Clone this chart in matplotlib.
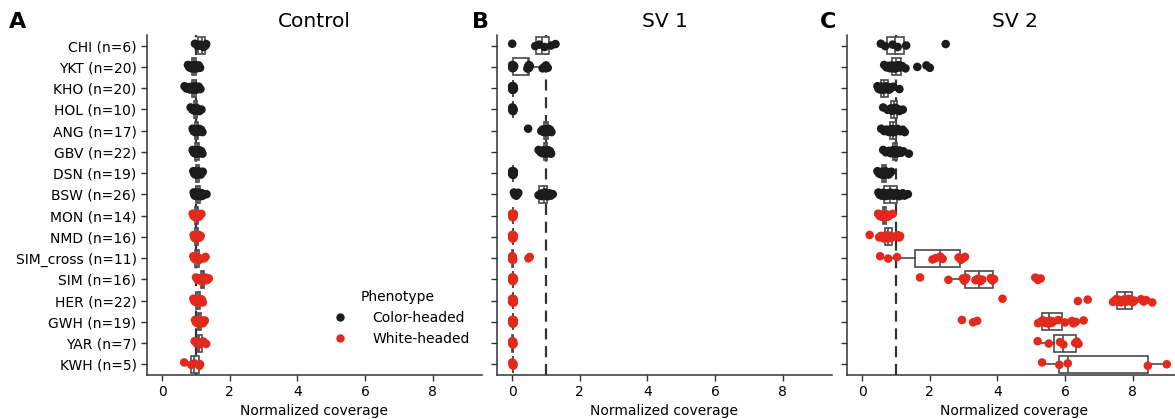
import numpy as np
import matplotlib
matplotlib.use("Agg")
import matplotlib.pyplot as plt
from matplotlib.lines import Line2D

plt.rcParams['font.family'] = ['DejaVu Sans']

groups = ["CHI", "YKT", "KHO", "HOL", "ANG", "GBV", "DSN", "BSW",
          "MON", "NMD", "SIM_cross", "SIM", "HER", "GWH", "YAR", "KWH"]
counts = [6, 20, 20, 10, 17, 22, 19, 26, 14, 16, 11, 16, 22, 19, 7, 5]
phenotype = ["Color-headed"] * 8 + ["White-headed"] * 8
panel_titles = ["Control", "SV 1", "SV 2"]
panel_letters = ["A", "B", "C"]
colors = {"Color-headed": "#1c1c1c", "White-headed": "#e3291b"}

control = {
    "CHI": [0.97, 1.05, 1.12, 1.22, 1.28, 1.30],
    "YKT": [0.76, 0.80, 0.84, 0.86, 0.88, 0.90, 0.91, 0.92, 0.93, 0.94, 0.95, 0.96, 0.97,
            0.98, 0.99, 1.00, 1.02, 1.05, 1.08, 1.12],
    "KHO": [0.66, 0.72, 0.78, 0.82, 0.86, 0.88, 0.89, 0.90, 0.92, 0.93, 0.94, 0.95, 0.96,
            0.97, 0.98, 1.00, 1.02, 1.05, 1.08, 1.13],
    "HOL": [0.84, 0.90, 0.94, 0.96, 0.98, 1.00, 1.02, 1.05, 1.10, 1.16],
    "ANG": [0.90, 0.93, 0.95, 0.97, 0.98, 0.99, 1.00, 1.01, 1.02, 1.03, 1.04, 1.05, 1.07,
            1.09, 1.12, 1.15, 1.19],
    "GBV": [0.90, 0.93, 0.95, 0.96, 0.97, 0.98, 0.99, 1.00, 1.00, 1.01, 1.02, 1.03, 1.04,
            1.05, 1.06, 1.07, 1.08, 1.10, 1.12, 1.14, 1.16, 1.19],
    "DSN": [0.92, 0.95, 0.97, 0.98, 0.99, 1.00, 1.01, 1.02, 1.03, 1.04, 1.05, 1.06, 1.07,
            1.08, 1.10, 1.12, 1.14, 1.17, 1.20],
    "BSW": [0.93, 0.95, 0.96, 0.97, 0.98, 0.99, 1.00, 1.00, 1.01, 1.02, 1.03, 1.04, 1.05,
            1.05, 1.06, 1.07, 1.08, 1.09, 1.10, 1.11, 1.12, 1.14, 1.16, 1.18, 1.20, 1.31],
    "MON": [0.90, 0.93, 0.95, 0.97, 0.98, 1.00, 1.01, 1.02, 1.03, 1.05, 1.07, 1.09, 1.12,
            1.16],
    "NMD": [0.93, 0.95, 0.96, 0.97, 0.98, 0.99, 1.00, 1.01, 1.02, 1.03, 1.04, 1.05, 1.07,
            1.09, 1.11, 1.14],
    "SIM_cross": [0.92, 0.95, 0.97, 0.99, 1.00, 1.02, 1.04, 1.06, 1.10, 1.24, 1.28],
    "SIM": [1.00, 1.05, 1.10, 1.13, 1.14, 1.16, 1.18, 1.19, 1.20, 1.21, 1.22, 1.24, 1.26,
            1.29, 1.33, 1.38],
    "HER": [0.92, 0.95, 0.97, 0.99, 1.00, 1.01, 1.02, 1.03, 1.04, 1.05, 1.06, 1.07, 1.08,
            1.09, 1.10, 1.11, 1.12, 1.13, 1.15, 1.16, 1.18, 1.20],
    "GWH": [0.97, 1.00, 1.02, 1.04, 1.05, 1.06, 1.07, 1.08, 1.09, 1.10, 1.11, 1.12, 1.13,
            1.14, 1.16, 1.18, 1.20, 1.23, 1.26],
    "YAR": [0.96, 1.02, 1.07, 1.10, 1.14, 1.22, 1.30],
    "KWH": [0.65, 0.86, 0.95, 1.10, 1.12],
}

sv1 = {
    "CHI": [0.00, 0.68, 0.80, 0.96, 1.15, 1.28],
    "YKT": [0.00, 0.00, 0.00, 0.01, 0.02, 0.03, 0.04, 0.06, 0.45, 0.47, 0.48, 0.49, 0.50,
            0.50, 0.50, 0.52, 0.90, 0.95, 1.00, 1.05],
    "KHO": [0.00, 0.00, 0.00, 0.00, 0.01, 0.01, 0.01, 0.01, 0.02, 0.02, 0.02, 0.02, 0.02,
            0.03, 0.03, 0.03, 0.03, 0.04, 0.04, 0.05],
    "HOL": [0.00, 0.00, 0.01, 0.01, 0.02, 0.02, 0.02, 0.03, 0.03, 0.04],
    "ANG": [0.47, 0.86, 0.90, 0.93, 0.95, 0.97, 0.98, 0.99, 1.00, 1.01, 1.02, 1.03, 1.05,
            1.07, 1.09, 1.12, 1.16],
    "GBV": [0.78, 0.84, 0.88, 0.90, 0.92, 0.94, 0.95, 0.96, 0.97, 0.98, 0.99, 1.00, 1.00,
            1.01, 1.02, 1.03, 1.04, 1.06, 1.08, 1.10, 1.12, 1.15],
    "DSN": [0.00, 0.00, 0.00, 0.01, 0.01, 0.01, 0.01, 0.02, 0.02, 0.02, 0.02, 0.02, 0.03,
            0.03, 0.03, 0.03, 0.04, 0.04, 0.05],
    "BSW": [0.05, 0.08, 0.10, 0.12, 0.15, 0.18, 0.78, 0.84, 0.88, 0.90, 0.92, 0.94, 0.95,
            0.96, 0.97, 0.98, 0.99, 1.00, 1.01, 1.02, 1.04, 1.06, 1.08, 1.10, 1.14, 1.20],
    "MON": [0.00, 0.00, 0.00, 0.01, 0.01, 0.01, 0.02, 0.02, 0.02, 0.02, 0.03, 0.03, 0.04,
            0.05],
    "NMD": [0.00, 0.00, 0.00, 0.01, 0.01, 0.01, 0.01, 0.02, 0.02, 0.02, 0.02, 0.03, 0.03,
            0.03, 0.04, 0.05],
    "SIM_cross": [0.00, 0.00, 0.00, 0.00, 0.01, 0.01, 0.02, 0.02, 0.03, 0.48, 0.52],
    "SIM": [0.00, 0.00, 0.00, 0.01, 0.01, 0.01, 0.01, 0.02, 0.02, 0.02, 0.02, 0.03, 0.03,
            0.03, 0.04, 0.05],
    "HER": [0.00, 0.00, 0.00, 0.00, 0.01, 0.01, 0.01, 0.01, 0.01, 0.02, 0.02, 0.02, 0.02,
            0.02, 0.03, 0.03, 0.03, 0.03, 0.04, 0.04, 0.04, 0.05],
    "GWH": [0.00, 0.00, 0.00, 0.01, 0.01, 0.01, 0.01, 0.02, 0.02, 0.02, 0.02, 0.02, 0.03,
            0.03, 0.03, 0.04, 0.04, 0.04, 0.05],
    "YAR": [0.00, 0.00, 0.01, 0.02, 0.02, 0.03, 0.04],
    "KWH": [0.00, 0.01, 0.02, 0.03, 0.04],
}

sv2 = {
    "CHI": [0.55, 0.68, 0.90, 1.05, 1.30, 2.47],
    "YKT": [0.65, 0.72, 0.78, 0.82, 0.86, 0.88, 0.90, 0.93, 0.96, 0.98, 1.00, 1.02, 1.05,
            1.08, 1.12, 1.18, 1.28, 1.63, 1.90, 2.00],
    "KHO": [0.45, 0.48, 0.50, 0.52, 0.55, 0.57, 0.58, 0.60, 0.62, 0.64, 0.66, 0.68, 0.70,
            0.72, 0.75, 0.78, 0.80, 0.85, 0.92, 1.10],
    "HOL": [0.62, 0.75, 0.85, 0.88, 0.92, 0.96, 1.00, 1.04, 1.10, 1.20],
    "ANG": [0.56, 0.65, 0.72, 0.78, 0.82, 0.85, 0.87, 0.89, 0.91, 0.93, 0.95, 0.97, 1.00,
            1.05, 1.12, 1.20, 1.26],
    "GBV": [0.62, 0.70, 0.78, 0.84, 0.88, 0.90, 0.92, 0.93, 0.94, 0.95, 0.96, 0.97, 0.98,
            0.99, 1.00, 1.02, 1.04, 1.06, 1.10, 1.15, 1.22, 1.38],
    "DSN": [0.45, 0.50, 0.53, 0.56, 0.58, 0.60, 0.62, 0.63, 0.64, 0.65, 0.66, 0.67, 0.68,
            0.70, 0.72, 0.74, 0.78, 0.82, 0.86],
    "BSW": [0.48, 0.52, 0.56, 0.58, 0.60, 0.62, 0.65, 0.68, 0.70, 0.74, 0.77, 0.80, 0.82,
            0.84, 0.86, 0.90, 0.93, 0.96, 1.00, 1.03, 1.06, 1.10, 1.15, 1.20, 1.25, 1.35],
    "MON": [0.47, 0.52, 0.56, 0.60, 0.62, 0.64, 0.65, 0.66, 0.68, 0.70, 0.72, 0.76, 0.82,
            0.90],
    "NMD": [0.22, 0.50, 0.55, 0.62, 0.68, 0.70, 0.72, 0.74, 0.76, 0.78, 0.80, 0.85, 0.95,
            1.05, 1.10, 1.12],
    "SIM_cross": [0.53, 0.77, 1.03, 2.08, 2.18, 2.31, 2.38, 2.85, 2.92, 2.98, 3.04],
    "SIM": [1.71, 2.55, 2.98, 3.02, 3.05, 3.08, 3.35, 3.42, 3.50, 3.55, 3.80, 3.85, 3.90,
            5.12, 5.20, 5.28],
    "HER": [4.15, 6.38, 6.67, 7.42, 7.48, 7.52, 7.56, 7.60, 7.65, 7.70, 7.75, 7.80, 7.84,
            7.88, 7.92, 7.95, 8.00, 8.05, 8.25, 8.32, 8.40, 8.58],
    "GWH": [2.95, 3.28, 3.40, 5.20, 5.28, 5.34, 5.40, 5.45, 5.50, 5.52, 5.56, 5.60, 5.65,
            5.80, 6.00, 6.20, 6.25, 6.32, 6.55],
    "YAR": [5.19, 5.52, 5.85, 5.95, 6.30, 6.35, 6.40],
    "KWH": [5.32, 5.83, 6.08, 8.45, 9.01],
}

panels = [control, sv1, sv2]
labels = [f"{g} (n={n})" for g, n in zip(groups, counts)]

W, H = 1175, 419
fig = plt.figure(figsize=(W / 100, H / 100), dpi=100)
lefts = [147, 497, 847]
letter_x = [18, 480, 828]
ax_w = 335
ax_bottom = (H - 375) / H
ax_h = 340 / H

box_edge = "#4a4a4a"
for pi, data in enumerate(panels):
    ax = fig.add_axes([lefts[pi] / W, ax_bottom, ax_w / W, ax_h])
    pos = np.arange(len(groups))
    ax.boxplot([data[g] for g in groups], positions=pos, vert=False,
               widths=0.8, showfliers=False, patch_artist=True, whis=1.5,
               boxprops=dict(facecolor="white", edgecolor=box_edge, linewidth=1.2),
               medianprops=dict(color=box_edge, linewidth=1.2),
               whiskerprops=dict(color=box_edge, linewidth=1.2),
               capprops=dict(color=box_edge, linewidth=1.2, alpha=0),
               zorder=2)
    ax.axvline(1.0, color="#333333", linestyle=(0, (5, 3)), linewidth=1.6, zorder=1.5)
    for gi, g in enumerate(groups):
        vals = np.asarray(data[g])
        n = len(vals)
        jit = (((np.arange(n) * 0.6180339) % 1.0) - 0.5) * 0.18
        ax.scatter(vals, gi + jit, s=38, color=colors[phenotype[gi]],
                   edgecolors="none", zorder=3)
    ax.set_ylim(len(groups) - 0.5, -0.5)
    ax.set_xlim(-0.45, 9.46)
    ax.set_xticks([0, 2, 4, 6, 8])
    ax.set_yticks(pos)
    if pi == 0:
        ax.set_yticklabels(labels, fontsize=10)
    else:
        ax.set_yticklabels([])
    ax.tick_params(axis="both", labelsize=10, length=4, width=1, color="#333333")
    ax.set_xlabel("Normalized coverage", fontsize=10, labelpad=3)
    ax.set_title(panel_titles[pi], fontsize=14.5, pad=6)
    for s in ["top", "right"]:
        ax.spines[s].set_visible(False)
    for s in ["left", "bottom"]:
        ax.spines[s].set_color("#333333")
        ax.spines[s].set_linewidth(1.1)
    fig.text(letter_x[pi] / W, 1 - 22 / H, panel_letters[pi], fontsize=16,
             fontweight="bold", ha="center", va="center")
    if pi == 0:
        handles = [Line2D([], [], marker="o", linestyle="", color=colors[k],
                          markersize=5, label=k) for k in ["Color-headed", "White-headed"]]
        ax.legend(handles=handles, title="Phenotype", frameon=False, fontsize=10,
                  title_fontsize=10, loc="lower right", bbox_to_anchor=(1.0, 0.05),
                  handletextpad=1.3, labelspacing=0.5)

fig.savefig("out.png", dpi=100)
